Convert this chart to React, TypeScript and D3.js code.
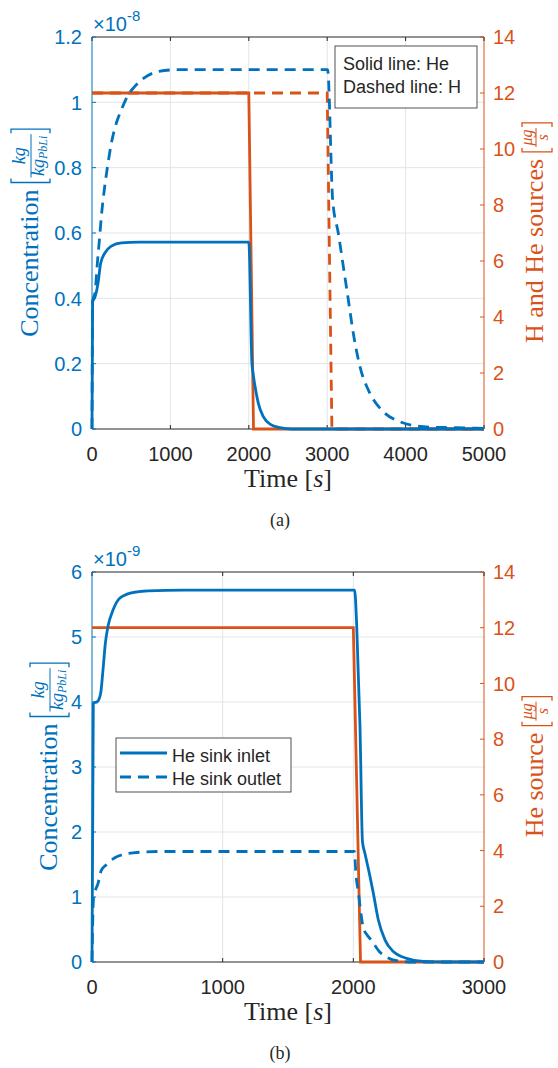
import { useEffect, useRef } from 'react'
import * as d3 from 'd3'

type Pt = [number, number]

const BLUE = '#0072BD'
const ORANGE = '#D95319'
const DARK = '#262626'
const GRID = '#e1e5ea'
const SANS = "'Liberation Sans', Arial, Helvetica, sans-serif"
const SERIF = "'Liberation Serif', 'Times New Roman', serif"

// ---- panel (a): concentration in 1e-8 kg/kg_PbLi, sources in ug/s
const timeTicksA = [0, 1000, 2000, 3000, 4000, 5000]
const concTicksA = [0, 0.2, 0.4, 0.6, 0.8, 1, 1.2]
const heConcA: Pt[] = [
    [0, 0], [8, 0.39], [40, 0.405], [77, 0.446], [110, 0.507], [162, 0.538],
    [247, 0.56], [374, 0.57], [600, 0.572], [2000, 0.572], [2040, 0.2],
    [2052, 0.175], [2080, 0.13], [2120, 0.08], [2185, 0.038], [2270, 0.015],
    [2400, 0.004], [2550, 0], [5000, 0],
]
const hConcA: Pt[] = [
    [0, 0], [8, 0.39], [40, 0.42], [68, 0.507], [98, 0.589], [119, 0.65],
    [162, 0.742], [204, 0.813], [247, 0.875], [310, 0.936], [374, 0.977],
    [459, 1.022], [544, 1.048], [629, 1.068], [842, 1.094], [1100, 1.1],
    [3005, 1.1], [3070, 0.7], [3142, 0.599], [3206, 0.497], [3270, 0.395],
    [3333, 0.293], [3418, 0.191], [3546, 0.109], [3716, 0.053], [3929, 0.022],
    [4226, 0.007], [4605, 0.004], [5000, 0.002],
]
const heSourceA: Pt[] = [[0, 12], [2000, 12], [2060, 0], [5000, 0]]
const hSourceA: Pt[] = [[0, 12], [3000, 12], [3060, 0], [5000, 0]]

// ---- panel (b): concentration in 1e-9 kg/kg_PbLi, source in ug/s
const timeTicksB = [0, 1000, 2000, 3000]
const concTicksB = [0, 1, 2, 3, 4, 5, 6]
const inletB: Pt[] = [
    [0, 0], [10, 3.98], [41, 4.005], [66, 4.13], [84, 4.49], [102, 4.9],
    [122, 5.16], [161, 5.415], [212, 5.595], [301, 5.68], [429, 5.71],
    [700, 5.72], [2010, 5.72], [2026, 5.16], [2051, 3.62], [2070, 1.85],
    [2089, 1.67], [2128, 1.31], [2153, 1.06], [2191, 0.65], [2242, 0.34],
    [2306, 0.16], [2408, 0.056], [2536, 0.01], [2700, 0], [3000, 0],
]
const outletB: Pt[] = [
    [0, 0], [12, 1.0], [25, 1.1], [45, 1.2], [71, 1.41], [112, 1.5],
    [189, 1.62], [316, 1.68], [520, 1.7], [2008, 1.7], [2020, 1.35],
    [2040, 1.05], [2055, 0.8], [2077, 0.52], [2100, 0.43], [2140, 0.33],
    [2204, 0.15], [2260, 0.07], [2330, 0.02], [2450, 0], [3000, 0],
]
const heSourceB: Pt[] = [[0, 12], [2000, 12], [2055, 0], [3000, 0]]

const sourceTicks = [0, 2, 4, 6, 8, 10, 12, 14]

const L = 92
const R = 484
const DASH = '11,7'
const LW = 2.8

interface Series {
    data: Pt[]
    right?: boolean
    color: string
    dashed?: boolean
}

interface Panel {
    top: number
    bottom: number
    xMax: number
    xTicks: number[]
    yMax: number
    yTicks: number[]
    exponent: string
    series: Series[]
    leftLabelX: number
    rightLabel: string
    caption: string
}

const panels: Panel[] = [
    {
        top: 37, bottom: 429, xMax: 5000, xTicks: timeTicksA,
        yMax: 1.2, yTicks: concTicksA, exponent: '-8',
        series: [
            { data: hSourceA, right: true, color: ORANGE, dashed: true },
            { data: heSourceA, right: true, color: ORANGE },
            { data: hConcA, color: BLUE, dashed: true },
            { data: heConcA, color: BLUE },
        ],
        leftLabelX: 38, rightLabel: 'H and He sources', caption: '(a)',
    },
    {
        top: 572, bottom: 962, xMax: 3000, xTicks: timeTicksB,
        yMax: 6, yTicks: concTicksB, exponent: '-9',
        series: [
            { data: heSourceB, right: true, color: ORANGE },
            { data: outletB, color: BLUE, dashed: true },
            { data: inletB, color: BLUE },
        ],
        leftLabelX: 57, rightLabel: 'He source', caption: '(b)',
    },
]

type G = d3.Selection<SVGGElement, unknown, null, undefined>

// rotated axis label with a bracketed unit fraction
function unitLabel(g: G, x: number, cy: number, color: string, main: string, conc: boolean) {
    const lg = g.append('g')
        .attr('transform', `translate(${x},${cy}) rotate(-90)`)
        .attr('fill', color)
        .attr('font-family', SERIF)
    const mainT = lg.append('text').attr('font-size', 26).text(main)
    const wMain = (mainT.node() as SVGTextElement).getComputedTextLength()

    const num = lg.append('text').attr('text-anchor', 'middle').attr('font-style', 'italic')
    const den = lg.append('text').attr('text-anchor', 'middle').attr('font-style', 'italic')
    let fy: number, b0: number, b1: number
    if (conc) {
        num.attr('y', -13).attr('font-size', 18).text('kg')
        den.attr('y', 6).attr('font-size', 18)
        den.append('tspan').text('kg')
        den.append('tspan').attr('font-size', 12).attr('dy', 3).text('PbLi')
        fy = -7; b0 = -27; b1 = 12
    } else {
        num.attr('y', -11).attr('font-size', 16).text('\u03bcg')
        den.attr('y', 5).attr('font-size', 16).text('s')
        fy = -7; b0 = -21; b1 = 9
    }
    const wf = Math.max(
        (num.node() as SVGTextElement).getComputedTextLength(),
        (den.node() as SVGTextElement).getComputedTextLength()
    ) + 3
    const gap = 7
    const pad = 5
    const total = wMain + gap + wf + 2 * pad
    const u0 = -total / 2
    mainT.attr('x', u0)
    const bl = u0 + wMain + gap
    const br = bl + 2 * pad + wf
    const fc = bl + pad + wf / 2
    num.attr('x', fc)
    den.attr('x', fc)
    lg.append('line')
        .attr('x1', fc - wf / 2).attr('x2', fc + wf / 2)
        .attr('y1', fy).attr('y2', fy)
        .attr('stroke', color).attr('stroke-width', 1)
    lg.append('path')
        .attr('d', `M${bl + 4},${b0}H${bl}V${b1}H${bl + 4}M${br - 4},${b0}H${br}V${b1}H${br - 4}`)
        .attr('fill', 'none').attr('stroke', color).attr('stroke-width', 1.3)
}

function drawPanel(svg: G, p: Panel) {
    const g = svg.append('g')
    const x = d3.scaleLinear().domain([0, p.xMax]).range([L, R])
    const yl = d3.scaleLinear().domain([0, p.yMax]).range([p.bottom, p.top])
    const yr = d3.scaleLinear().domain([0, 14]).range([p.bottom, p.top])

    // grid
    g.selectAll('.vg').data(p.xTicks.slice(1, -1)).join('line')
        .attr('x1', d => x(d)).attr('x2', d => x(d))
        .attr('y1', p.top).attr('y2', p.bottom)
        .attr('stroke', GRID).attr('stroke-width', 1)
    g.selectAll('.hg').data(p.yTicks.slice(1, -1)).join('line')
        .attr('x1', L).attr('x2', R)
        .attr('y1', d => yl(d)).attr('y2', d => yl(d))
        .attr('stroke', GRID).attr('stroke-width', 1)

    // box + ticks
    g.append('line').attr('x1', L).attr('x2', R).attr('y1', p.top).attr('y2', p.top).attr('stroke', DARK)
    g.append('line').attr('x1', L).attr('x2', R).attr('y1', p.bottom).attr('y2', p.bottom).attr('stroke', DARK)
    g.append('line').attr('x1', L).attr('x2', L).attr('y1', p.top).attr('y2', p.bottom).attr('stroke', BLUE)
    g.append('line').attr('x1', R).attr('x2', R).attr('y1', p.top).attr('y2', p.bottom).attr('stroke', ORANGE)
    p.xTicks.forEach(t => {
        g.append('line').attr('x1', x(t)).attr('x2', x(t)).attr('y1', p.bottom).attr('y2', p.bottom - 4).attr('stroke', DARK)
        g.append('line').attr('x1', x(t)).attr('x2', x(t)).attr('y1', p.top).attr('y2', p.top + 4).attr('stroke', DARK)
    })
    g.selectAll('.lt').data(p.yTicks).join('line')
        .attr('x1', L).attr('x2', L + 4).attr('y1', d => yl(d)).attr('y2', d => yl(d)).attr('stroke', BLUE)
    g.selectAll('.rt').data(sourceTicks).join('line')
        .attr('x1', R).attr('x2', R - 4).attr('y1', d => yr(d)).attr('y2', d => yr(d)).attr('stroke', ORANGE)

    // data
    p.series.forEach(s => {
        const y = s.right ? yr : yl
        const line = d3.line<Pt>()
            .x(d => x(d[0]))
            .y(d => y(d[1]))
            .curve(s.right ? d3.curveLinear : d3.curveMonotoneX)
        g.append('path')
            .attr('d', line(s.data))
            .attr('fill', 'none')
            .attr('stroke', s.color)
            .attr('stroke-width', LW)
            .attr('stroke-dasharray', s.dashed ? DASH : null)
    })

    // tick labels
    g.selectAll('.xl').data(p.xTicks).join('text')
        .attr('x', d => x(d)).attr('y', p.bottom + 32)
        .attr('text-anchor', 'middle').attr('font-family', SANS).attr('font-size', 20)
        .attr('fill', DARK).text(d => String(d))
    g.selectAll('.yl').data(p.yTicks).join('text')
        .attr('x', L - 10).attr('y', d => yl(d)).attr('dy', '0.36em')
        .attr('text-anchor', 'end').attr('font-family', SANS).attr('font-size', 20)
        .attr('fill', BLUE).text(d => String(d))
    g.selectAll('.yr').data(sourceTicks).join('text')
        .attr('x', R + 9).attr('y', d => yr(d)).attr('dy', '0.36em')
        .attr('font-family', SANS).attr('font-size', 20)
        .attr('fill', ORANGE).text(d => String(d))

    const ex = g.append('text').attr('x', L + 1).attr('y', p.top - 6)
        .attr('font-family', SANS).attr('font-size', 20).attr('fill', BLUE)
    ex.append('tspan').text('\u00d710')
    ex.append('tspan').attr('font-size', 15).attr('dy', -10).text(p.exponent)

    // axis labels
    const cy = (p.top + p.bottom) / 2
    unitLabel(g, p.leftLabelX, cy, BLUE, 'Concentration', true)
    unitLabel(g, 543, cy, ORANGE, p.rightLabel, false)

    const xt = g.append('text').attr('x', (L + R) / 2).attr('y', p.bottom + 58)
        .attr('text-anchor', 'middle').attr('font-family', SERIF).attr('font-size', 26).attr('fill', DARK)
    xt.append('tspan').text('Time [')
    xt.append('tspan').attr('font-style', 'italic').text('s')
    xt.append('tspan').text(']')

    g.append('text').attr('x', 280).attr('y', p.bottom + 97)
        .attr('text-anchor', 'middle').attr('font-family', SERIF).attr('font-size', 18).attr('fill', DARK)
        .text(p.caption)
    return g
}

export default function App() {
    const svgRef = useRef<SVGSVGElement>(null)

    useEffect(() => {
        if (!svgRef.current) return
        const svg = d3.select(svgRef.current)
        svg.selectAll('*').remove()
        const root = svg.append('g') as G

        drawPanel(root, panels[0])
        drawPanel(root, panels[1])

        // legend (a)
        root.append('rect').attr('x', 335).attr('y', 46).attr('width', 142).attr('height', 62)
            .attr('fill', '#fff').attr('stroke', DARK).attr('stroke-width', 0.8)
        ;['Solid line: He', 'Dashed line: H'].forEach((t, i) => {
            root.append('text').attr('x', 343).attr('y', 70 + i * 23)
                .attr('font-family', SANS).attr('font-size', 18).attr('fill', DARK).text(t)
        })

        // legend (b)
        root.append('rect').attr('x', 116).attr('y', 738).attr('width', 175).attr('height', 54)
            .attr('fill', '#fff').attr('stroke', DARK).attr('stroke-width', 0.8)
        ;[['He sink inlet', false], ['He sink outlet', true]].forEach(([t, dashed], i) => {
            const y = 753 + i * 24
            root.append('line').attr('x1', 120).attr('x2', 167).attr('y1', y).attr('y2', y)
                .attr('stroke', BLUE).attr('stroke-width', LW)
                .attr('stroke-dasharray', dashed ? DASH : null)
            root.append('text').attr('x', 172).attr('y', 762 + i * 23)
                .attr('font-family', SANS).attr('font-size', 18).attr('fill', DARK).text(t as string)
        })
    }, [])

    return (
        <div style={{ position: 'absolute', left: 0, top: 0, background: '#fff' }}>
            <svg ref={svgRef} width={558} height={1068} style={{ display: 'block' }}></svg>
        </div>
    )
}
